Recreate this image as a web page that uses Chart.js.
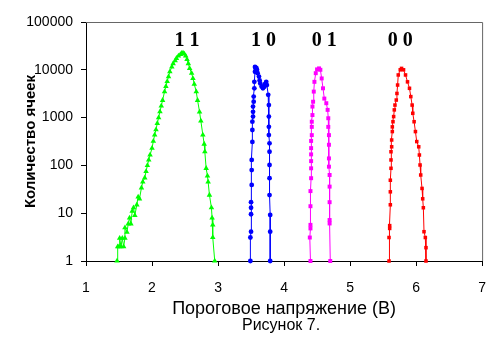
<!DOCTYPE html>
<html>
<head>
<meta charset="utf-8">
<script src="https://cdn.jsdelivr.net/npm/chart.js@4/dist/chart.umd.min.js"></script>
<style>
  body { margin: 0; background: #fff; }
  #wrap { width: 500px; height: 352px; }
</style>
</head>
<body>
<div id="wrap"><canvas id="graph" width="500" height="352"></canvas></div>
<script>
// threshold voltage (V) and cell counts
const x11 = [1.47, 1.48, 1.50, 1.51, 1.53, 1.55, 1.57, 1.59, 1.59, 1.62, 1.64, 1.66, 1.68, 1.70, 1.72, 1.74, 1.77, 1.79, 1.81, 1.84,
  1.86, 1.89, 1.91, 1.93, 1.95, 1.97, 2.00, 2.02, 2.04, 2.06, 2.08, 2.10, 2.12, 2.14, 2.16, 2.19, 2.21, 2.23, 2.25, 2.27,
  2.30, 2.32, 2.35, 2.37, 2.40, 2.43, 2.45, 2.47, 2.49, 2.51, 2.53, 2.55, 2.57, 2.60, 2.62, 2.64, 2.67, 2.69, 2.72, 2.74,
  2.77, 2.79, 2.80, 2.82, 2.84, 2.85, 2.87, 2.90, 2.91, 2.92, 2.92, 2.95];
const y11 = [1, 2, 2, 3, 2, 3, 2, 3, 5, 4, 6, 8, 6, 11, 13, 9, 15, 22, 20, 34,
  45, 55, 75, 100, 130, 165, 230, 320, 435, 560, 760, 1000, 1330, 1750, 2300, 3500, 4500, 5700, 7200, 9100,
  11500, 13500, 15500, 17400, 19500, 21000, 22300, 22500, 21500, 19500, 16500, 13500, 10700, 8500, 6600, 5000, 3500, 2300, 1320, 850,
  433, 280, 193, 87, 60, 45, 24, 13, 8, 5.7, 3.1, 1];

const x10 = [3.49, 3.49, 3.50, 3.50, 3.50, 3.50, 3.51, 3.51, 3.51, 3.52, 3.52, 3.52, 3.53, 3.53, 3.53, 3.54, 3.54, 3.55, 3.55, 3.56,
  3.56, 3.57, 3.58, 3.59, 3.60, 3.62, 3.63, 3.64, 3.66, 3.68, 3.70, 3.71, 3.73, 3.74, 3.76, 3.77, 3.77, 3.77, 3.77, 3.78,
  3.78, 3.78, 3.78, 3.78, 3.79, 3.79, 3.79];
const y10 = [1, 3.1, 4.1, 9.5, 13, 17, 39, 80, 130, 310, 550, 820, 1050, 1320, 1700, 2150, 2750, 4100, 5600, 9100,
  11500, 10500, 11000, 10000, 8500, 7200, 6000, 5200, 4500, 4100, 4400, 5000, 5600, 4800, 3000, 1830, 1050, 640, 430, 290,
  193, 102, 54, 24, 9.2, 4.1, 1];

const x01 = [4.40, 4.39, 4.40, 4.40, 4.40, 4.40, 4.41, 4.41, 4.41, 4.41, 4.41, 4.41, 4.42, 4.42, 4.42, 4.43, 4.43, 4.44, 4.45, 4.46,
  4.48, 4.50, 4.53, 4.55, 4.57, 4.59, 4.61, 4.64, 4.66, 4.67, 4.67, 4.68, 4.68, 4.68, 4.68, 4.69, 4.69, 4.69, 4.69, 4.69, 4.70];
const y01 = [1, 3.1, 4.8, 5.7, 14, 29, 54, 87, 123, 170, 230, 325, 430, 640, 820, 1130, 1700, 2150, 3500, 5600,
  8500, 10200, 10700, 10000, 6600, 4100, 2500, 2000, 1450, 970, 640, 430, 270, 140, 94, 63, 36, 17, 7.2, 6.1, 1];

const x00 = [5.59, 5.59, 5.60, 5.60, 5.61, 5.61, 5.61, 5.62, 5.62, 5.62, 5.63, 5.63, 5.64, 5.64, 5.65, 5.66, 5.67, 5.68, 5.70, 5.71,
  5.72, 5.73, 5.76, 5.78, 5.81, 5.84, 5.87, 5.90, 5.92, 5.94, 5.95, 5.97, 5.99, 6.01, 6.04, 6.05, 6.06, 6.07, 6.09, 6.10,
  6.11, 6.12, 6.14, 6.15, 6.15];
const y00 = [1, 3.1, 4.8, 5.5, 15, 28, 49, 87, 130, 193, 245, 340, 510, 640, 820, 1050, 1450, 1830, 2330, 3200,
  4800, 7800, 10000, 10700, 10000, 7800, 5600, 4100, 2750, 1830, 1230, 820, 510, 315, 245, 165, 102, 63, 33, 20,
  13, 4.1, 3.1, 1.9, 1];

const stateLabels = ['1 1', '1 0', '0 1', '0 0'];
const stateLabelX = [2.53, 3.69, 4.61, 5.76];
const yTicks = [1, 10, 100, 1000, 10000, 100000];
const caption = 'Рисунок 7.';

function pts(xs, ys) {
    return xs.map((x, i) => ({ x: x, y: ys[i] }));
}

function series(xs, ys, color, style, r) {
    return {
        data: pts(xs, ys),
        borderColor: color,
        backgroundColor: color,
        borderWidth: 1,
        pointStyle: style,
        pointRadius: r,
        pointBorderWidth: 0,
        pointHoverRadius: r,
        showLine: true,
        tension: 0,
        clip: false
    };
}

const sans = '"Liberation Sans", Arial, sans-serif';

// top/right frame, the "1 1 / 1 0 / 0 1 / 0 0" labels and the caption
const extras = {
    id: 'extras',
    afterDraw(chart) {
        const ctx = chart.ctx;
        const a = chart.chartArea;
        ctx.save();
        ctx.strokeStyle = '#666';
        ctx.lineWidth = 1;
        ctx.beginPath();
        ctx.moveTo(a.left, a.top + 0.5);
        ctx.lineTo(a.right + 0.5, a.top + 0.5);
        ctx.lineTo(a.right + 0.5, a.bottom);
        ctx.stroke();
        ctx.fillStyle = '#000';
        ctx.font = 'bold 20px "Liberation Serif", "Times New Roman", serif';
        ctx.textAlign = 'center';
        ctx.textBaseline = 'middle';
        const yPix = chart.scales.y.getPixelForValue(40000);
        stateLabels.forEach((t, i) => {
            ctx.fillText(t, chart.scales.x.getPixelForValue(stateLabelX[i]), yPix);
        });
        ctx.font = '16px ' + sans;
        ctx.fillText(caption, (a.left + a.right) / 2 - 3, 326);
        ctx.restore();
    }
};

new Chart(document.getElementById('graph').getContext('2d'), {
    type: 'scatter',
    data: {
        datasets: [
            series(x11, y11, '#00ff00', 'triangle', 3.2),
            series(x10, y10, '#0000ff', 'circle', 2.4),
            series(x01, y01, '#ff00ff', 'rect', 2.8),
            series(x00, y00, '#ff0000', 'rect', 2.5)
        ]
    },
    options: {
        responsive: false,
        animation: false,
        layout: { padding: { top: 22, right: 17, left: 0, bottom: 32 } },
        plugins: {
            legend: { display: false },
            tooltip: { enabled: false },
            title: { display: false }
        },
        scales: {
            x: {
                type: 'linear',
                min: 1,
                max: 7,
                afterFit(s) { s.height = 59; },
                ticks: { stepSize: 1, color: '#000', padding: 14, font: { family: sans, size: 14 } },
                grid: { drawOnChartArea: false, drawTicks: true, tickLength: 5, color: '#000' },
                border: { display: true, color: '#000', width: 1 },
                title: {
                    display: true,
                    text: 'Пороговое напряжение (В)',
                    color: '#000',
                    font: { family: sans, size: 18 },
                    padding: { top: 0, bottom: 0 }
                }
            },
            y: {
                type: 'logarithmic',
                min: 1,
                max: 100000,
                afterFit(s) { s.width = 86; },
                afterBuildTicks(s) { s.ticks = yTicks.map(v => ({ value: v })); },
                ticks: {
                    color: '#000',
                    padding: 8,
                    font: { family: sans, size: 14 },
                    callback: v => String(v)
                },
                grid: { drawOnChartArea: false, drawTicks: true, tickLength: 5, color: '#000' },
                border: { display: true, color: '#000', width: 1 },
                title: {
                    display: true,
                    text: 'Количество ячеек',
                    color: '#000',
                    font: { family: sans, size: 15, weight: 'bold' },
                    padding: { top: 22, bottom: 0 }
                }
            }
        }
    },
    plugins: [extras]
});
</script>
</body>
</html>
